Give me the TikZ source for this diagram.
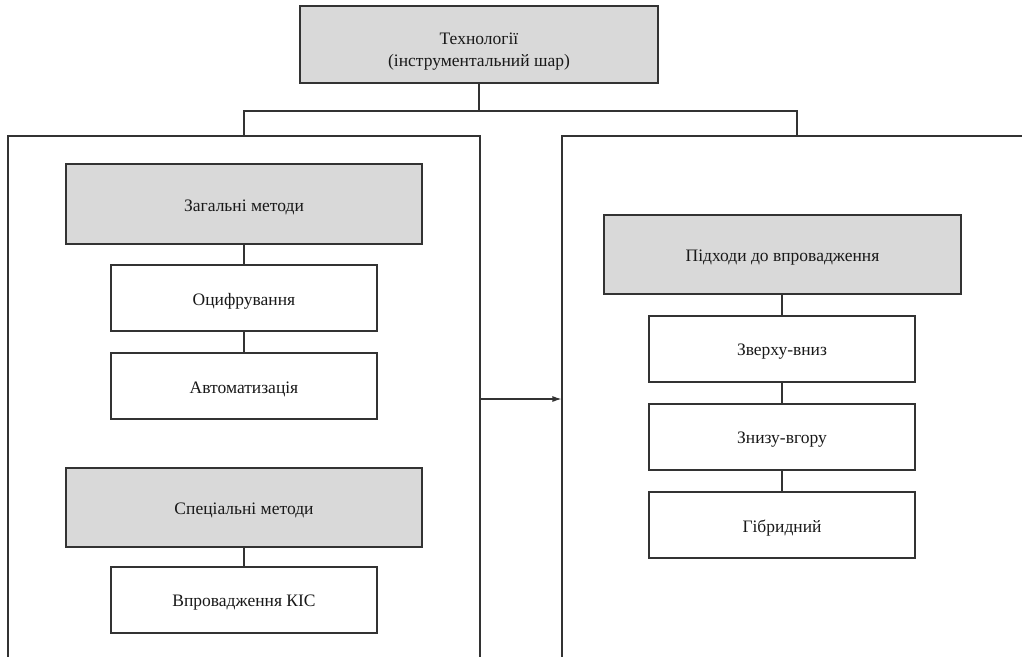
\documentclass[tikz,border=0pt]{standalone}
\usepackage{fontspec}
\setmainfont{Liberation Serif}
\usetikzlibrary{arrows.meta}
\definecolor{boxgray}{HTML}{D9D9D9}
\definecolor{linegray}{HTML}{333333}
\tikzset{
  every node/.style={font=\fontsize{17.5}{22}\selectfont, text=black!90, align=center},
  graybox/.style={draw=linegray, line width=1.1pt, fill=boxgray, inner sep=0pt, minimum width=#1},
  graybox/.default=356pt,
  whitebox/.style={draw=linegray, line width=1.1pt, fill=white, inner sep=0pt, minimum width=266pt, minimum height=66pt},
  container/.style={draw=linegray, line width=1.1pt, inner sep=0pt},
  conn/.style={draw=linegray, line width=1.1pt},
  lbl/.style={yshift=-3pt},
}
\begin{document}
\begin{tikzpicture}[x=1pt,y=-1pt]
\useasboundingbox (0,0) rectangle (1022,656);
\clip (0,0) rectangle (1022,656);
% top
\node[graybox=358pt, minimum height=77pt, label={[yshift=-7pt]center:Технології\\(інструментальний шар)}] (top) at (479,44.5) {};
% containers
\node[container, minimum width=472pt, minimum height=564pt] (cl) at (244,418) {};
\node[container, minimum width=470pt, minimum height=564pt] (cr) at (797,418) {};
\coordinate (split) at (479,111);
\draw[conn] (top.south) -- (split);
\draw[conn] (split) -| (cl.north);
\draw[conn] (split) -| (cr.north);
% left column
\node[graybox, minimum height=80pt, label={[lbl]center:Загальні методи}] (zag) at (244,204) {};
\node[whitebox, label={[lbl]center:Оцифрування}] (ocy) at (244,298) {};
\node[whitebox, label={[lbl]center:Автоматизація}] (avt) at (244,386) {};
\node[graybox, minimum height=79pt, label={[lbl]center:Спеціальні методи}] (spe) at (244,507.5) {};
\node[whitebox, label={[lbl]center:Впровадження КІС}] (kis) at (244,600) {};
\draw[conn] (zag) -- (ocy);
\draw[conn] (ocy) -- (avt);
\draw[conn] (spe) -- (kis);
% right column
\node[graybox=357pt, minimum height=79pt, label={[lbl]center:Підходи до впровадження}] (pid) at (782.5,254.5) {};
\node[whitebox, label={[lbl]center:Зверху-вниз}] (zve) at (782,349) {};
\node[whitebox, label={[lbl]center:Знизу-вгору}] (zni) at (782,437) {};
\node[whitebox, label={[lbl]center:Гібридний}] (gib) at (782,525) {};
\draw[conn] (pid.south -| zve) -- (zve);
\draw[conn] (zve) -- (zni);
\draw[conn] (zni) -- (gib);
% arrow
\coordinate (ay) at (0,399);
\draw[conn, -{Latex[length=9pt,width=6pt]}] (cl.east |- ay) -- (cr.west |- ay);
\end{tikzpicture}
\end{document}
